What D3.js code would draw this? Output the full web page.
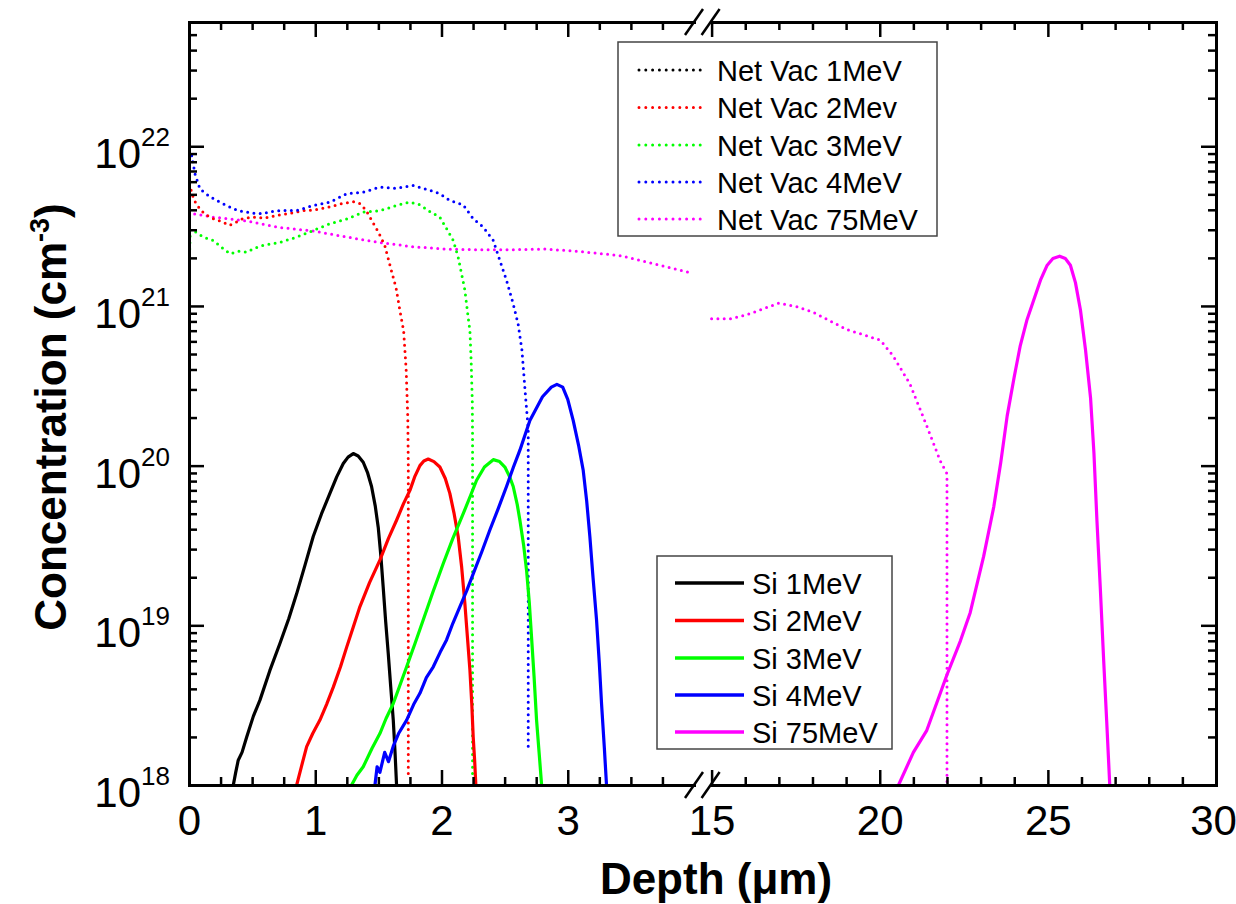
<!DOCTYPE html>
<html><head><meta charset="utf-8">
<script src="https://cdn.jsdelivr.net/npm/d3@7"></script>
<style>
body{margin:0;background:#fff}
text{font-family:"Liberation Sans",Arial,Helvetica,sans-serif;fill:#000}
</style>
</head><body>
<svg id="chart" width="1236" height="904"></svg>
<script>
// ---------------- data (depth in µm, concentration in cm^-3) ----------------
const leftMajorTicks = [0, 1, 2, 3];
const leftMinorTicks = [0.25,0.5,0.75,1.25,1.5,1.75,2.25,2.5,2.75,3.25,3.5,3.75];
const rightMajorTicks = [15, 20, 25, 30];
const rightMinorTicks = [16,17,18,19,21,22,23,24,26,27,28,29];
const yMajorExponents = [18, 19, 20, 21, 22];

const netVac2 = [[0.005,5.8e21],[0.02,5.2e21],[0.04,4.6e21],[0.09,4.0e21],[0.14,3.7e21],[0.2,3.5e21],[0.27,3.35e21],[0.32,3.2e21],[0.36,3.3e21],[0.42,3.5e21],[0.5,3.6e21],[0.6,3.55e21],[0.7,3.7e21],[0.8,3.8e21],[0.9,3.95e21],[1.0,4.0e21],[1.1,4.15e21],[1.2,4.35e21],[1.3,4.5e21],[1.35,4.4e21],[1.4,4.0e21],[1.45,3.4e21],[1.5,2.9e21],[1.55,2.4e21],[1.6,1.7e21],[1.64,1.3e21],[1.67,9.4e20],[1.7,7e20],[1.72,4e20],[1.733,2e20],[1.737,1e20],[1.737,1.1e18]];
const netVac3 = [[0.0,1.1e21],[0.004,2.0e21],[0.01,3.0e21],[0.034,2.97e21],[0.113,2.7e21],[0.192,2.57e21],[0.272,2.28e21],[0.325,2.12e21],[0.39,2.2e21],[0.457,2.17e21],[0.52,2.3e21],[0.588,2.4e21],[0.72,2.5e21],[0.853,2.7e21],[0.984,2.97e21],[1.116,3.27e21],[1.249,3.5e21],[1.38,3.87e21],[1.512,3.95e21],[1.644,4.26e21],[1.75,4.47e21],[1.829,4.3e21],[1.908,3.9e21],[1.987,3.6e21],[2.04,3.05e21],[2.093,2.57e21],[2.132,2.02e21],[2.159,1.59e21],[2.185,1.26e21],[2.211,8.5e20],[2.225,7e20],[2.235,4.5e20],[2.244,2.5e20],[2.246,1.5e20],[2.246,1.1e18]];
const netVac4 = [[0.002,9.5e21],[0.021,8.75e21],[0.048,6.7e21],[0.087,5.4e21],[0.14,5.0e21],[0.192,4.7e21],[0.26,4.4e21],[0.325,4.16e21],[0.39,3.95e21],[0.457,3.87e21],[0.52,3.8e21],[0.588,3.78e21],[0.65,3.9e21],[0.72,3.96e21],[0.853,3.96e21],[0.984,4.26e21],[1.116,4.47e21],[1.249,5.04e21],[1.38,5.16e21],[1.512,5.55e21],[1.644,5.45e21],[1.776,5.69e21],[1.908,5.3e21],[1.987,5.04e21],[2.066,4.58e21],[2.172,4.3e21],[2.251,3.52e21],[2.33,3.12e21],[2.41,2.57e21],[2.462,1.93e21],[2.515,1.45e21],[2.568,1.03e21],[2.607,7.7e20],[2.637,5.3e20],[2.668,2.57e20],[2.687,1.7e20],[2.687,1.6e18]];
const netVac75Left = [[0.0,3.9e21],[0.02,3.8e21],[0.19,3.6e21],[0.46,3.4e21],[0.72,3.1e21],[0.98,2.95e21],[1.25,2.7e21],[1.51,2.5e21],[1.77,2.35e21],[2.04,2.27e21],[2.3,2.25e21],[2.57,2.25e21],[2.83,2.27e21],[3.07,2.2e21],[3.41,2.07e21],[3.73,1.8e21],[3.99,1.6e21]];
const netVac75Right = [[15.0,8.3e20],[15.55,8.3e20],[16.04,8.8e20],[16.54,9.6e20],[16.99,1.04e21],[17.53,9.9e20],[18.03,9.1e20],[18.53,8.05e20],[19.03,7.1e20],[19.52,6.6e20],[20.02,6.1e20],[20.4,4.86e20],[20.9,3.24e20],[21.4,1.77e20],[21.8,1.07e20],[22.0,8.9e19],[22.0,1.05e18]];

const si1 = [[0.351,1e18],[0.37,1.2e18],[0.39,1.43e18],[0.42,1.6e18],[0.457,2.0e18],[0.51,2.7e18],[0.562,3.4e18],[0.64,5.2e18],[0.72,7.7e18],[0.79,1.1e19],[0.853,1.58e19],[0.92,2.4e19],[0.984,3.6e19],[1.05,5e19],[1.116,6.7e19],[1.17,8.5e19],[1.222,1.03e20],[1.26,1.13e20],[1.301,1.19e20],[1.34,1.15e20],[1.38,1.05e20],[1.415,9e19],[1.446,7.4e19],[1.475,5.6e19],[1.499,4.1e19],[1.52,2.7e19],[1.538,1.74e19],[1.558,1.05e19],[1.578,6.7e18],[1.598,4.1e18],[1.618,2.55e18],[1.632,1.6e18],[1.644,1e18]];
const si2 = [[0.853,1e18],[0.89,1.3e18],[0.932,1.74e18],[0.98,2.1e18],[1.037,2.55e18],[1.09,3.2e18],[1.143,4.1e18],[1.2,5.5e18],[1.249,7.3e18],[1.3,9.7e18],[1.354,1.31e19],[1.43,1.85e19],[1.512,2.56e19],[1.58,3.5e19],[1.644,4.55e19],[1.7,5.8e19],[1.75,7e19],[1.79,8.6e19],[1.829,1e20],[1.86,1.07e20],[1.895,1.1e20],[1.94,1.06e20],[1.987,9.8e19],[2.03,8.3e19],[2.066,6.7e19],[2.1,5e19],[2.132,3.6e19],[2.16,2.3e19],[2.185,1.37e19],[2.205,8.5e18],[2.225,5.25e18],[2.24,3.2e18],[2.251,2.0e18],[2.263,1.4e18],[2.272,1e18]];
const si3 = [[1.288,1e18],[1.33,1.15e18],[1.38,1.3e18],[1.45,1.7e18],[1.512,2.1e18],[1.56,2.6e18],[1.618,3.24e18],[1.67,4.2e18],[1.724,5.5e18],[1.79,7.7e18],[1.855,1.08e19],[1.93,1.6e19],[2.014,2.44e19],[2.09,3.5e19],[2.172,5.0e19],[2.23,6.5e19],[2.278,8.1e19],[2.34,9.8e19],[2.41,1.09e20],[2.46,1.06e20],[2.502,9.8e19],[2.54,8.5e19],[2.568,7.4e19],[2.6,5.7e19],[2.621,4.55e19],[2.65,3.2e19],[2.674,2.2e19],[2.695,1.4e19],[2.713,8.5e18],[2.733,4.8e18],[2.753,2.55e18],[2.773,1.6e18],[2.793,1e18]];
const si4 = [[1.473,1e18],[1.49,1.3e18],[1.512,1.2e18],[1.55,1.6e18],[1.58,1.4e18],[1.618,1.75e18],[1.66,2.1e18],[1.724,2.55e18],[1.78,3.2e18],[1.829,3.75e18],[1.88,4.7e18],[1.935,5.5e18],[1.99,6.8e18],[2.04,8.1e18],[2.09,1.03e19],[2.146,1.31e19],[2.2,1.65e19],[2.251,2.1e19],[2.32,2.9e19],[2.383,3.95e19],[2.45,5.4e19],[2.515,7.4e19],[2.57,9.8e19],[2.621,1.25e20],[2.7,1.92e20],[2.8,2.7e20],[2.87,3.1e20],[2.914,3.23e20],[2.96,3.1e20],[3.0,2.6e20],[3.043,1.92e20],[3.085,1.35e20],[3.122,9.4e19],[3.15,6e19],[3.175,3.6e19],[3.2,2e19],[3.228,1.08e19],[3.25,5.8e18],[3.268,3.2e18],[3.29,1.7e18],[3.307,1e18]];
const si75 = [[20.56,1e18],[21.0,1.6e18],[21.4,2.2e18],[22.0,4.9e18],[22.4,8e18],[22.69,1.2e19],[23.09,2.7e19],[23.39,5.5e19],[23.6,1.05e20],[23.79,2.05e20],[24.0,3.6e20],[24.18,5.65e20],[24.38,8.2e20],[24.58,1.09e21],[24.78,1.45e21],[24.98,1.8e21],[25.15,1.98e21],[25.35,2.05e21],[25.52,1.98e21],[25.67,1.8e21],[25.82,1.4e21],[25.97,9.4e20],[26.12,5.3e20],[26.27,2.65e20],[26.37,1.2e20],[26.46,4.5e19],[26.56,1.7e19],[26.66,6e18],[26.75,2.5e18],[26.84,1e18]];

const netVacLegend = ["Net Vac 1MeV","Net Vac 2Mev","Net Vac 3MeV","Net Vac 4MeV","Net Vac 75MeV"];
const siLegend = ["Si 1MeV","Si 2MeV","Si 3MeV","Si 4MeV","Si 75MeV"];
const seriesColors = ["#000000","#ff0000","#00ff00","#0000ff","#ff00ff"];

// ---------------- layout ----------------
const X0 = 189, XB1 = 694, XB2 = 711.6, X1 = 1216, Y0 = 785, Y1 = 22;
const svg = d3.select("#chart");
const xL = d3.scaleLinear().domain([0, 4]).range([X0, XB1]);
const xR = d3.scaleLinear().domain([15, 30]).range([XB2, X1]);
const y = d3.scaleLog().domain([1e18, 6e22]).range([Y0, Y1]);

const defs = svg.append("defs");
defs.append("clipPath").attr("id","clipL").append("rect").attr("x",X0).attr("y",Y1).attr("width",XB1-X0).attr("height",Y0-Y1);
defs.append("clipPath").attr("id","clipR").append("rect").attr("x",XB2-2).attr("y",Y1).attr("width",X1-XB2+2).attr("height",Y0-Y1);

const gL = svg.append("g").attr("clip-path","url(#clipL)");
const gR = svg.append("g").attr("clip-path","url(#clipR)");

function lineFor(xs){ return d3.line().x(d=>xs(d[0])).y(d=>y(d[1])); }
const lL = lineFor(xL), lR = lineFor(xR);

function dotted(g, data, line, color){
  g.append("path").attr("d", line(data)).attr("fill","none").attr("stroke",color)
   .attr("stroke-width",3).attr("stroke-linecap","round").attr("stroke-dasharray","0 6.3");
}
function solid(g, data, line, color){
  g.append("path").attr("d", line(data)).attr("fill","none").attr("stroke",color)
   .attr("stroke-width",3.2).attr("stroke-linejoin","round");
}
dotted(gL, netVac75Left, lL, seriesColors[4]);
dotted(gL, netVac3, lL, seriesColors[2]);
dotted(gL, netVac2, lL, seriesColors[1]);
dotted(gL, netVac4, lL, seriesColors[3]);
dotted(gR, netVac75Right, lR, seriesColors[4]);
solid(gL, si1, lL, seriesColors[0]);
solid(gL, si2, lL, seriesColors[1]);
solid(gL, si3, lL, seriesColors[2]);
solid(gL, si4, lL, seriesColors[3]);
solid(gR, si75, lR, seriesColors[4]);

// ---------------- axes ----------------
function styleAxis(g){
  g.selectAll(".domain").attr("stroke","#000").attr("stroke-width",3).attr("stroke-linecap","square");
  g.selectAll(".tick line").attr("stroke","#000").attr("stroke-width",2.5);
}
function addX(scale, major, minor){
  const b = svg.append("g").attr("transform",`translate(0,${Y0})`)
    .call(d3.axisBottom(scale).tickValues(major).tickSize(-15).tickSizeOuter(0).tickPadding(20).tickFormat(d3.format("d")));
  b.selectAll("text").attr("font-size",42).attr("fill","#000")
    .attr("dx", d => d === 30 ? -3 : 0);
  styleAxis(b);
  const bm = svg.append("g").attr("transform",`translate(0,${Y0})`)
    .call(d3.axisBottom(scale).tickValues(minor).tickSize(-8).tickSizeOuter(0).tickFormat(""));
  styleAxis(bm);
  const t = svg.append("g").attr("transform",`translate(0,${Y1})`)
    .call(d3.axisTop(scale).tickValues(major).tickSize(-15).tickSizeOuter(0).tickFormat(""));
  styleAxis(t);
  const tm = svg.append("g").attr("transform",`translate(0,${Y1})`)
    .call(d3.axisTop(scale).tickValues(minor).tickSize(-8).tickSizeOuter(0).tickFormat(""));
  styleAxis(tm);
}
addX(xL, leftMajorTicks, leftMinorTicks);
addX(xR, rightMajorTicks, rightMinorTicks);

const yMajor = yMajorExponents.map(e => Math.pow(10, e));
const yMinor = [];
yMajorExponents.forEach(e => { for (let k = 2; k <= 9; k++){ const v = k*Math.pow(10,e); if (v <= 6e22) yMinor.push(v); } });

function addY(x, axisFn){
  const a = svg.append("g").attr("transform",`translate(${x},0)`)
    .call(axisFn(y).tickValues(yMajor).tickSize(-15).tickSizeOuter(0).tickFormat(""));
  styleAxis(a);
  const m = svg.append("g").attr("transform",`translate(${x},0)`)
    .call(axisFn(y).tickValues(yMinor).tickSize(-8).tickSizeOuter(0).tickFormat(""));
  styleAxis(m);
}
addY(X0, d3.axisLeft);
addY(X1, d3.axisRight);

// y tick labels with superscripts
yMajorExponents.forEach(e => {
  const yy = y(Math.pow(10, e));
  const t = svg.append("text").attr("x", 170).attr("y", yy + 22).attr("text-anchor","end").attr("font-size",42);
  t.append("tspan").text("10");
  t.append("tspan").attr("font-size",26).attr("dy",-22).text(String(e));
});

// axis break marks
[[Y0],[Y1]].forEach(([yy]) => {
  [XB1, XB2 - 1].forEach(xb => {
    svg.append("line").attr("x1", xb - 9).attr("y1", yy + 13).attr("x2", xb + 9).attr("y2", yy - 13)
      .attr("stroke","#000").attr("stroke-width",2.5);
  });
});

// axis titles
svg.append("text").attr("x", 716).attr("y", 894).attr("text-anchor","middle")
  .attr("font-size",44).attr("font-weight","bold").text("Depth (\u03bcm)");
const yt = svg.append("text").attr("transform","translate(66,417) rotate(-90)").attr("text-anchor","middle")
  .attr("font-size",44).attr("font-weight","bold");
yt.append("tspan").text("Concentration (cm");
yt.append("tspan").attr("font-size",27).attr("dy",-17).text("-3");
yt.append("tspan").attr("dy",17).text(")");

// ---------------- legends ----------------
function legend(x, yTop, w, h, rowYs, lx1, lx2, tx, labels, isDotted){
  const g = svg.append("g");
  g.append("rect").attr("x",x).attr("y",yTop).attr("width",w).attr("height",h)
    .attr("fill","#fff").attr("stroke","#444").attr("stroke-width",1.5);
  labels.forEach((lab,i) => {
    const ln = g.append("line").attr("x1",lx1).attr("x2",lx2).attr("y1",rowYs[i]).attr("y2",rowYs[i])
      .attr("stroke",seriesColors[i]);
    if (isDotted) ln.attr("stroke-width",3).attr("stroke-linecap","round").attr("stroke-dasharray","0 6.8");
    else ln.attr("stroke-width",3.5);
    g.append("text").attr("x",tx).attr("y",rowYs[i]+10.5).attr("font-size",29).text(lab);
  });
}
legend(618, 42, 319, 194, [70,107.5,145,182,219], 639, 702, 717, netVacLegend, true);
legend(657, 556, 235, 193, [583,620.5,658,695,732], 675, 744, 752, siLegend, false);
</script>
</body></html>
